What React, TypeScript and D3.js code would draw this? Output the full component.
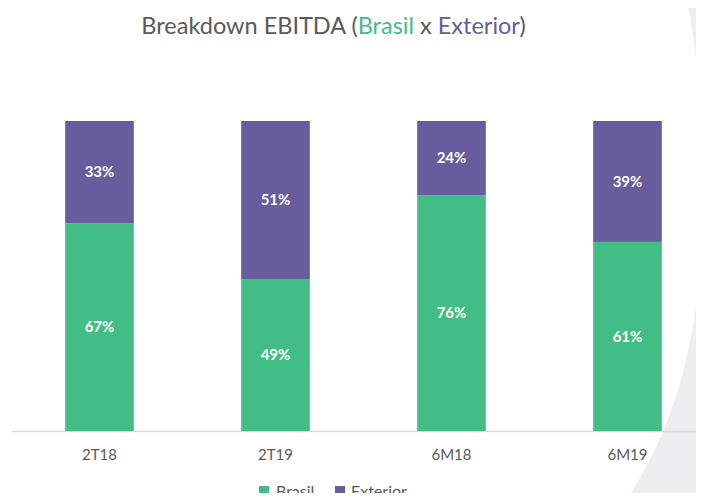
import React from "react";
import * as d3 from "d3";

const categories = ["2T18", "2T19", "6M18", "6M19"];
const brasil = [67, 49, 76, 61];
const exterior = [33, 51, 24, 39];
const seriesNames = ["Brasil", "Exterior"];
const colors = ["#43BD86", "#665C9E"];

const W = 704;
const H = 501;
const FONT = "Lato, 'Open Sans', sans-serif";

export default function App() {
  const x = d3.scaleBand<string>().domain(categories).range([11.5, 715.5]).paddingInner(0.61).paddingOuter(0.305);
  const y = d3.scaleLinear().domain([0, 100]).range([431, 121]);
  const rows = categories.map((c, i) => ({ cat: c, Brasil: brasil[i], Exterior: exterior[i] }));
  const stack = d3.stack<any>().keys(seriesNames)(rows);

  const bg = "M687,0 C702,80 712,200 694,320 C680,405 655,455 626,501 L704,501 L704,0 Z";

  return (
    <div style={{ margin: -8 }}>
      <svg width={W} height={H} style={{ display: "block", fontFamily: FONT }}>
        <rect width={W} height={H} fill="#ffffff" />
        <path d={bg} fill="#eeeef1" />
        <line x1={12} x2={W} y1={431.5} y2={431.5} stroke="#d9d9d9" strokeWidth={1.5} />
        {stack.map((s, si) => (
          <g key={si}>
            {s.map((d, i) => {
              const x0 = x(categories[i])!;
              const y0 = y(d[1]);
              const y1 = y(d[0]);
              return (
                <g key={i}>
                  <rect x={x0} y={y0} width={x.bandwidth()} height={y1 - y0} fill={colors[si]} />
                  <text
                    x={x0 + x.bandwidth() / 2}
                    y={(y0 + y1) / 2}
                    dy="0.35em"
                    textAnchor="middle"
                    fill="#ffffff"
                    fontWeight="bold"
                    fontSize={15}
                  >
                    {(d[1] - d[0]) + "%"}
                  </text>
                </g>
              );
            })}
          </g>
        ))}
        {categories.map((c) => (
          <text key={c} x={x(c)! + x.bandwidth() / 2} y={455} dy="0.35em" textAnchor="middle" fill="#595959" fontSize={15}>
            {c}
          </text>
        ))}
        <text x={333.5} y={34} textAnchor="middle" fontSize={23.5} fill="#595959">
          <tspan>Breakdown EBITDA (</tspan>
          <tspan fill={colors[0]}>Brasil</tspan>
          <tspan> x </tspan>
          <tspan fill={colors[1]}>Exterior</tspan>
          <tspan>)</tspan>
        </text>
        <g>
          <rect x={259} y={486} width={10} height={10} fill={colors[0]} />
          <text x={276} y={491} dy="0.35em" fontSize={16} fill="#595959">{seriesNames[0]}</text>
          <rect x={335} y={486} width={10} height={10} fill={colors[1]} />
          <text x={351} y={491} dy="0.35em" fontSize={16} fill="#595959">{seriesNames[1]}</text>
        </g>
      </svg>
    </div>
  );
}
